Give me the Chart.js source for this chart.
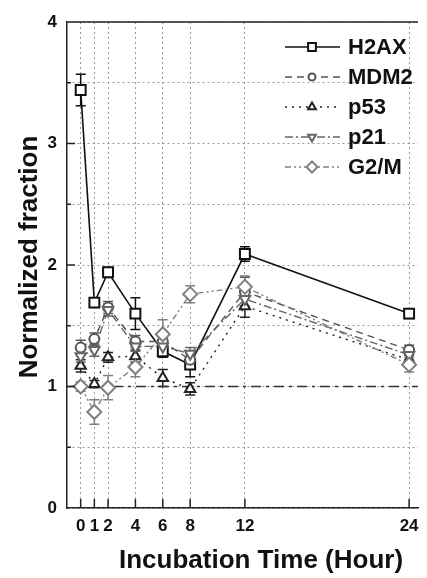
<!DOCTYPE html>
<html>
<head>
<meta charset="utf-8">
<script src="https://cdn.jsdelivr.net/npm/chart.js@4.4.0/dist/chart.umd.min.js"></script>
<style>
  html, body { margin: 0; padding: 0; background: #fff; }
  #wrap { width: 427px; height: 578px; }
</style>
</head>
<body>
<div id="wrap"><canvas id="chart" width="427" height="578"></canvas></div>
<script>
// values
const hours = [0, 1, 2, 4, 6, 8, 12, 24];
const seriesNames = ['H2AX', 'MDM2', 'p53', 'p21', 'G2/M'];

const h2ax    = [3.44, 1.69, 1.94, 1.60, 1.29, 1.18, 2.09, 1.60];
const h2axErr = [0.13, 0.03, 0.04, 0.13, 0.05, 0.10, 0.06, 0.04];
const mdm2    = [1.32, 1.39, 1.65, 1.37, 1.37, 1.22, 1.78, 1.30];
const mdm2Err = [0.06, 0.05, 0.05, 0.05, 0.06, 0.05, 0.12, 0.04];
const p53     = [1.17, 1.02, 1.24, 1.25, 1.07, 0.98, 1.66, 1.22];
const p53Err  = [0.05, 0.03, 0.04, 0.05, 0.07, 0.05, 0.09, 0.04];
const p21     = [1.25, 1.30, 1.63, 1.33, 1.33, 1.27, 1.72, 1.26];
const p21Err  = [0.05, 0.05, 0.05, 0.04, 0.05, 0.05, 0.06, 0.04];
const g2m     = [1.00, 0.79, 0.99, 1.16, 1.43, 1.76, 1.82, 1.18];
const g2mErr  = [0.04, 0.10, 0.10, 0.08, 0.12, 0.07, 0.09, 0.06];

const refLevel = 1;
const xMin = -1, xMax = 24.65;
const yMin = 0, yMax = 4;

const FONT = "'Liberation Sans', Arial, sans-serif";

// look of each series
const styles = [
  { color: '#111', dash: [],               point: 'rect',     radius: 7, rotation: 0 },
  { color: '#555', dash: [7, 5],           point: 'circle',   radius: 5, rotation: 0 },
  { color: '#222', dash: [2, 5],           point: 'triangle', radius: 6, rotation: 0 },
  { color: '#666', dash: [8, 3, 2, 3],     point: 'triangle', radius: 6, rotation: 180 },
  { color: '#808080', dash: [6, 3, 2, 3, 2, 3], point: 'rectRot', radius: 7, rotation: 0 }
];
const values = [h2ax, mdm2, p53, p21, g2m];
const errors = [h2axErr, mdm2Err, p53Err, p21Err, g2mErr];

const datasets = seriesNames.map((name, k) => ({
  label: name,
  data: hours.map((h, i) => ({ x: h, y: values[k][i] })),
  err: errors[k],
  borderColor: styles[k].color,
  borderWidth: k === 0 ? 1.6 : 1.4,
  borderDash: styles[k].dash,
  pointStyle: styles[k].point,
  pointRotation: styles[k].rotation,
  pointRadius: styles[k].radius,
  pointBorderWidth: 2,
  pointBorderColor: styles[k].color,
  pointBackgroundColor: '#fff',
  tension: 0,
  fill: false,
  order: 5 - k
}));

// dash-dot reference line at 1
datasets.push({
  label: 'ref',
  data: [{ x: xMin, y: refLevel }, { x: xMax, y: refLevel }],
  borderColor: '#333',
  borderWidth: 1.6,
  borderDash: [10, 5, 3, 5],
  pointRadius: 0,
  fill: false,
  order: 10
});

const errorBars = {
  id: 'errorBars',
  beforeDatasetsDraw(chart) {
    const ctx = chart.ctx;
    const xs = chart.scales.x, ys = chart.scales.y;
    chart.data.datasets.forEach(ds => {
      if (!ds.err) return;
      ctx.save();
      ctx.strokeStyle = ds.borderColor;
      ctx.lineWidth = 1.5;
      ctx.setLineDash([]);
      ds.data.forEach((p, i) => {
        const x = xs.getPixelForValue(p.x);
        const y1 = ys.getPixelForValue(p.y + ds.err[i]);
        const y2 = ys.getPixelForValue(p.y - ds.err[i]);
        ctx.beginPath();
        ctx.moveTo(x, y1); ctx.lineTo(x, y2);
        ctx.moveTo(x - 5, y1); ctx.lineTo(x + 5, y1);
        ctx.moveTo(x - 5, y2); ctx.lineTo(x + 5, y2);
        ctx.stroke();
      });
      ctx.restore();
    });
  }
};

const frame = {
  id: 'frame',
  afterDraw(chart) {
    const ctx = chart.ctx;
    const a = chart.chartArea;
    const xs = chart.scales.x, ys = chart.scales.y;
    ctx.save();
    ctx.strokeStyle = '#222';
    ctx.lineWidth = 1.5;
    ctx.setLineDash([]);
    // top border
    ctx.beginPath();
    ctx.moveTo(a.left, a.top); ctx.lineTo(a.right, a.top);
    ctx.stroke();
    // inward ticks
    ctx.beginPath();
    hours.forEach(h => {
      const x = xs.getPixelForValue(h);
      ctx.moveTo(x, a.bottom); ctx.lineTo(x, a.bottom - 9);
    });
    for (let v = yMin + 0.5; v < yMax; v += 0.5) {
      const y = ys.getPixelForValue(v);
      ctx.moveTo(a.left, y); ctx.lineTo(a.left + (Number.isInteger(v) ? 8 : 4), y);
    }
    ctx.stroke();

    // axis titles
    ctx.fillStyle = '#111';
    ctx.font = 'bold 26px ' + FONT;
    ctx.textAlign = 'center';
    ctx.textBaseline = 'middle';
    ctx.fillText('Incubation Time (Hour)', 261, 561);
    ctx.translate(30, 257);
    ctx.rotate(-Math.PI / 2);
    ctx.fillText('Normalized fraction', 0, 0);
    ctx.restore();

    // legend: line with marker in the middle
    ctx.save();
    const x0 = 285, x1 = 340, xm = 312, tx = 348;
    seriesNames.forEach((name, k) => {
      const y = 47 + k * 30;
      const st = styles[k];
      ctx.strokeStyle = st.color;
      ctx.lineWidth = 1.6;
      ctx.setLineDash(st.dash);
      ctx.beginPath();
      ctx.moveTo(x0, y); ctx.lineTo(x1, y);
      ctx.stroke();
      ctx.setLineDash([]);
      ctx.fillStyle = '#fff';
      ctx.lineWidth = 2;
      Chart.helpers.drawPoint(ctx, {
        pointStyle: st.point, radius: st.radius - 1.5, rotation: st.rotation, borderWidth: 2
      }, xm, y);
      ctx.fillStyle = '#111';
      ctx.font = 'bold 22px ' + FONT;
      ctx.textAlign = 'left';
      ctx.textBaseline = 'middle';
      ctx.fillText(name, tx, y + 1);
    });
    ctx.restore();
  }
};

new Chart(document.getElementById('chart').getContext('2d'), {
  type: 'line',
  data: { datasets },
  options: {
    responsive: false,
    animation: false,
    layout: { padding: { top: 22, right: 0, left: 0, bottom: 0 } },
    plugins: {
      legend: { display: false },
      tooltip: { enabled: false }
    },
    scales: {
      x: {
        type: 'linear',
        min: xMin,
        max: xMax,
        afterBuildTicks: s => { s.ticks = hours.map(v => ({ value: v })); },
        afterFit: s => { s.height = 70; },
        ticks: {
          autoSkip: false,
          maxRotation: 0,
          padding: 8,
          color: '#111',
          font: { family: FONT, size: 17, weight: 'bold' }
        },
        grid: { color: '#999', lineWidth: 1, drawTicks: false },
        border: { display: true, color: '#222', width: 1.5, dash: [2, 3] }
      },
      y: {
        min: yMin,
        max: yMax,
        afterFit: s => { s.width = 67; },
        ticks: {
          stepSize: 0.5,
          padding: 10,
          color: '#111',
          font: { family: FONT, size: 17, weight: 'bold' },
          callback: v => Number.isInteger(v) ? v : ''
        },
        grid: { color: '#999', lineWidth: 1, drawTicks: false },
        border: { display: true, color: '#222', width: 1.5, dash: [2, 3] }
      }
    }
  },
  plugins: [errorBars, frame]
});
</script>
</body>
</html>
